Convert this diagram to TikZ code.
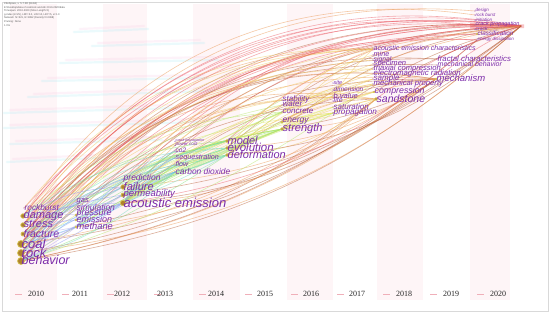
\documentclass[tikz,border=0pt]{standalone}
\usepackage{fontspec}
\setmainfont{Liberation Serif}
\newfontfamily\kwfont{Liberation Sans}
\pgfdeclarelayer{bgl}
\pgfdeclarelayer{edl}
\pgfsetlayers{bgl,edl,main}
\definecolor{kwc}{RGB}{125,45,170}
\definecolor{dotfill}{RGB}{175,130,45}
\definecolor{dotring}{RGB}{215,200,90}
\definecolor{bandc}{RGB}{254,245,247}
\definecolor{dashc}{RGB}{240,175,185}
\definecolor{ghostc}{RGB}{165,235,245}
\definecolor{ghostp}{RGB}{248,200,228}
\definecolor{c10}{RGB}{170,160,235}
\definecolor{c11}{RGB}{140,150,240}
\definecolor{c12}{RGB}{110,190,235}
\definecolor{c13}{RGB}{110,220,190}
\definecolor{c14}{RGB}{130,225,120}
\definecolor{c15}{RGB}{180,230,100}
\definecolor{c16}{RGB}{225,230,90}
\definecolor{c17}{RGB}{240,200,90}
\definecolor{c18}{RGB}{235,150,80}
\definecolor{c19}{RGB}{185,95,55}
\definecolor{c20}{RGB}{235,90,100}
\begin{document}
\begin{tikzpicture}[x=1pt,y=-1pt,
  kw/.style={anchor=west,inner sep=0pt,text=kwc},
  dotnode/.style={circle,inner sep=0pt,fill=dotfill,draw=dotring,line width=0.7pt},
  tinydot/.style={circle,inner sep=0pt,minimum size=1.2pt,fill=kwc!70},
  edge/.style={line width=0.6pt,opacity=0.5},
  yearlab/.style={font=\fontsize{8}{9}\selectfont,text=black!85,anchor=west,inner sep=0pt},
  hdr/.style={font=\kwfont\fontsize{2.6}{3}\selectfont,text=black!65,anchor=west,inner sep=0pt},
  ghost/.style={line width=2.2pt,opacity=0.22,line cap=round}]
\useasboundingbox (0,0) rectangle (550,313);
% background
\begin{pgfonlayer}{bgl}
\fill[white] (0,0) rectangle (550,313);
\foreach \xa/\xb in {10/57,103/147,193/240,287/333,377/423,470/510}
  \fill[bandc] (\xa,4) rectangle (\xb,300);
\draw[black!15,line width=0.8pt] (2.5,2) rectangle (548,311.5);
% ghost streaks
\foreach \xa/\ya/\xb/\yb in {74/32/148/29,92/46/204/43,60/63/218/60,42/81/208/78,28/97/211/91,4/113/176/108,4/128/197/122,10/144/162/140,7/162/99/158}{
  \draw[ghost,ghostc] (\xa,\ya) -- (\xb,\yb);
  \draw[ghost,ghostp] (\xa+6,\ya-3) -- (\xb-4,\yb-3);
}
\end{pgfonlayer}
% header
\foreach \yy/\tt in {4/{CiteSpace, v. 5.7.R2 (64-bit)},7.5/{E:\textbackslash Desktop\textbackslash data of coal/rock and AE 2010-2020\textbackslash data},11/{Timespan: 2010-2020 (Slice Length=1)},14.5/{g-index (k=25), LRF=3.0, L/N=10, LBY=5, e=1.0},18/{Network: N=321, E=1892 (Density=0.0368)},22/{Pruning: None},26/{1.0\%}}
  \node[hdr] (h\yy) at (4,\yy) {\tt};
% nodes
\foreach \n/\x/\y/\t/\s/\d in {
 rockb/24/208/rockburst/8.3/0, damage/23/216/damage/11/4.5, stress/23/225/stress/11/4.5,
 fract/23/234/fracture/10.5/4, coal/21/244/coal/13/7, rock/21/253/rock/13/7, behav/21/261/behavior/12.5/7,
 gas/76/202/gas/7.5/0, simul/76/208/simulation/8.5/0, press/76/215/pressure/9/1.8,
 emiss/76/220/emission/9/1.8, meth/76/227/methane/9.3/1.8,
 pred/123/179/prediction/8.5/0, fail/123/187/failure/11/4.5, perm/123/195/permeability/9.5/4,
 ae/123/203/acoustic emission/13/5.5,
 ccp/175/141.5/crack propagation/3.6/0, pc/175/145.5/power cost/4.5/0, co2/175/151/co2/6.5/0,
 seq/175/158/sequestration/7.2/0, flow/175/165/flow/7/0, cd/175/172/carbon dioxide/8.4/0,
 model/227/141/model/11/3, evol/227/148/evolution/11.5/3, deform/227/155/deformation/11/3,
 stab/282/100/stability/8/0, water/282/105/water/8/0, concr/282/112/concrete/8/0,
 energy/282/122/energy/8.5/2.5, strength/282/129/strength/11/3,
 site/333/83/site/5.5/0, dimen/333/90/dimension/6.5/0, bval/333/96/b value/7.5/0,
 life/333/101/life/7/0, satur/333/107/saturation/8/0, propag/333/113/propagation/8.2/0,
 aec/373/49/acoustic emission characteristics/7/0, mine/373/55/mine/7.2/0, signal/373/60/signal/6.8/0,
 spec/373/64/specimen/7.6/0, triax/373/69/triaxial compression/7.6/0, emr/373/74/electromagnetic radiation/7.8/0,
 sample/373/79/sample/8/0, mprop/373/84/mechanical property/7.7/0, compr/374/92/compression/8.8/1.5,
 sand/376/99/sandstone/10.5/3,
 fractal/437/59/fractal characteristics/7.8/0, mbeh/437/65/mechanical behavior/7/0, mech/436/79/mechanism/9.5/2,
 design/475/11/design/4.5/0, rburst/475/15/rock burst/4.5/0, init/475/20/initiation/4.5/0,
 cprop/475/25/crack propagation/5.5/0, crack/475/29.5/crack/5/0, classif/477/34/classification/6.3/1.5,
 edis/477/40/energy dissipation/4.5/0}{
  \ifdim\d pt>0.1pt
    \node[dotnode,minimum size=\d pt] (\n) at (\x,\y) {};
  \else
    \node[tinydot] (\n) at (\x,\y) {};
  \fi
  \node[kw,font=\kwfont\itshape\fontsize{\s}{\s}\selectfont] (\n-l) at (\x+0.5,\y-0.6) {\t};
}
\coordinate (hub) at (521,26);
% edges
\begin{pgfonlayer}{edl}
\fill[c20,opacity=0.35] (470,23) -- (524,24.5) -- (524,28) -- (470,28.5) -- cycle;
\foreach \a/\b/\c/\bb in {
 coal/hub/c20/30, rock/hub/c20/28, behav/hub/c19/27, damage/hub/c20/31, stress/hub/c20/29, fract/hub/c19/26,
 coal/edis/c20/26, rock/classif/c20/25, damage/cprop/c20/29, stress/design/c18/30, coal/mech/c19/30,
 rock/mech/c18/27, behav/mech/c19/24, damage/mech/c18/26, stress/sand/c18/28, fract/sand/c17/25,
 coal/sand/c18/26, behav/sand/c19/22, rock/aec/c17/28, coal/aec/c18/30, damage/aec/c17/24,
 fract/fractal/c19/26, coal/fractal/c19/25, stress/mbeh/c19/23, rockb/hub/c20/27, rockb/aec/c17/26,
 press/hub/c20/24, meth/hub/c19/22, gas/aec/c17/25, fail/hub/c20/25, ae/hub/c20/22, perm/hub/c19/20,
 pred/hub/c20/24, fail/aec/c17/22, ae/aec/c18/20, ae/mech/c19/18, model/hub/c20/20, evol/hub/c19/18,
 deform/mech/c19/15, strength/hub/c19/16, energy/mech/c18/14, concr/aec/c17/14, propag/hub/c19/10,
 sand/hub/c20/10, aec/hub/c18/3, mine/hub/c18/5, mech/hub/c20/8, fractal/hub/c20/5, compr/hub/c19/6,
 spec/hub/c18/4, rock/edis/c20/28, behav/classif/c20/24, stress/cprop/c20/27, fract/hub/c20/23,
 damage/rburst/c18/32, coal/init/c20/31,
 behav/hub/c19/-16, rock/hub/c18/-17, coal/mech/c19/-14, behav/mech/c18/-12, coal/sand/c18/-13,
 rock/sand/c19/-14, ae/sand/c18/-20, ae/mech/c19/-16, perm/hub/c19/-15, fail/mech/c18/-14,
 meth/sand/c18/-16, deform/sand/c17/-18, deform/hub/c19/-18, evol/mech/c18/-15, strength/mech/c18/-16,
 strength/hub/c19/-14, energy/sand/c17/-12, ae/edis/c20/-16, meth/hub/c19/-12, behav/edis/c19/-14,
 ae/model/c14/8, ae/evol/c14/4, ae/deform/c13/-4, ae/strength/c15/6, ae/propag/c15/5, ae/concr/c15/8,
 fail/strength/c15/10, fail/deform/c14/6, perm/evol/c14/5, perm/energy/c15/8, perm/deform/c13/0,
 deform/strength/c15/4, deform/propag/c16/6, evol/concr/c15/8, model/stab/c15/10, strength/satur/c16/6,
 strength/bval/c16/10, concr/dimen/c16/8, energy/propag/c16/4, meth/deform/c14/6, press/model/c14/12,
 coal/deform/c14/15, rock/strength/c15/16, stress/model/c14/18, damage/evol/c13/16, fract/deform/c13/10,
 behav/deform/c14/-6, behav/propag/c15/-8, coal/strength/c15/14, fract/strength/c15/12, damage/concr/c15/18,
 stress/propag/c16/14, rock/water/c15/18, fail/concr/c15/12, ae/satur/c16/8, ae/bval/c16/10,
 meth/strength/c15/4, emiss/propag/c16/6, perm/strength/c14/2, fail/model/c14/10, ae/energy/c15/-2,
 deform/concr/c15/2, evol/strength/c14/6, model/concr/c15/6, pred/model/c14/6, emiss/evol/c14/8,
 coal/evol/c13/20, behav/strength/c15/6, rock/propag/c16/12,
 propag/sand/c17/6, satur/compr/c17/4, bval/aec/c17/6, concr/mprop/c17/6, strength/sand/c17/6,
 strength/aec/c17/12, deform/sample/c17/10, energy/mech/c18/6, concr/spec/c17/8, deform/emr/c17/12,
 fail/triax/c17/18, ae/sample/c17/14, ae/compr/c17/10, perm/mprop/c17/14, coal/compr/c17/22,
 rock/signal/c17/24, stress/triax/c17/24, dimen/triax/c17/4, evol/mine/c17/16, strength/compr/c16/2,
 propag/mprop/c16/4, energy/sample/c17/4,
 coal/gas/c11/10, coal/meth/c11/-4, rock/fail/c11/10, behav/ae/c11/-6, damage/press/c10/6,
 stress/perm/c11/8, fract/ae/c11/0, coal/ae/c12/4, rock/pred/c11/12, behav/meth/c10/-6,
 coal/simul/c10/12, stress/emiss/c10/0, fract/meth/c10/-4, damage/fail/c11/14, rock/perm/c11/4,
 behav/fail/c12/6, meth/ae/c12/-6, press/fail/c12/6, ae/cd/c12/8, ae/flow/c12/10, perm/seq/c12/10,
 meth/co2/c12/14, fail/cd/c12/2, perm/cd/c12/-4, ae/co2/c13/12, coal/cd/c12/-10, rock/seq/c12/16,
 fract/flow/c12/12, behav/cd/c13/-12, emiss/ae/c11/-4, cd/deform/c13/-6, seq/model/c13/4, flow/evol/c13/0,
 rock/ae/c11/-2, stress/fail/c10/10, damage/ae/c11/6, behav/perm/c10/0, meth/cd/c12/10, ae/seq/c12/14}
  \draw[edge,draw=\c] (\a.center) to[bend left=\bb] (\b.center);
\end{pgfonlayer}
% year axis
\foreach \dx/\lx/\yr in {15/28/2010,62/72/2011,107/114/2012,154/157/2013,199/208/2014,245/257/2015,291/303/2016,337/349/2017,383/396/2018,430/443/2019,477/490/2020}{
  \draw[dashc,line width=0.8pt] (\dx,294) -- (\dx+7,294);
  \node[yearlab] (y\yr) at (\lx,294) {\yr};
}
\end{tikzpicture}
\end{document}
